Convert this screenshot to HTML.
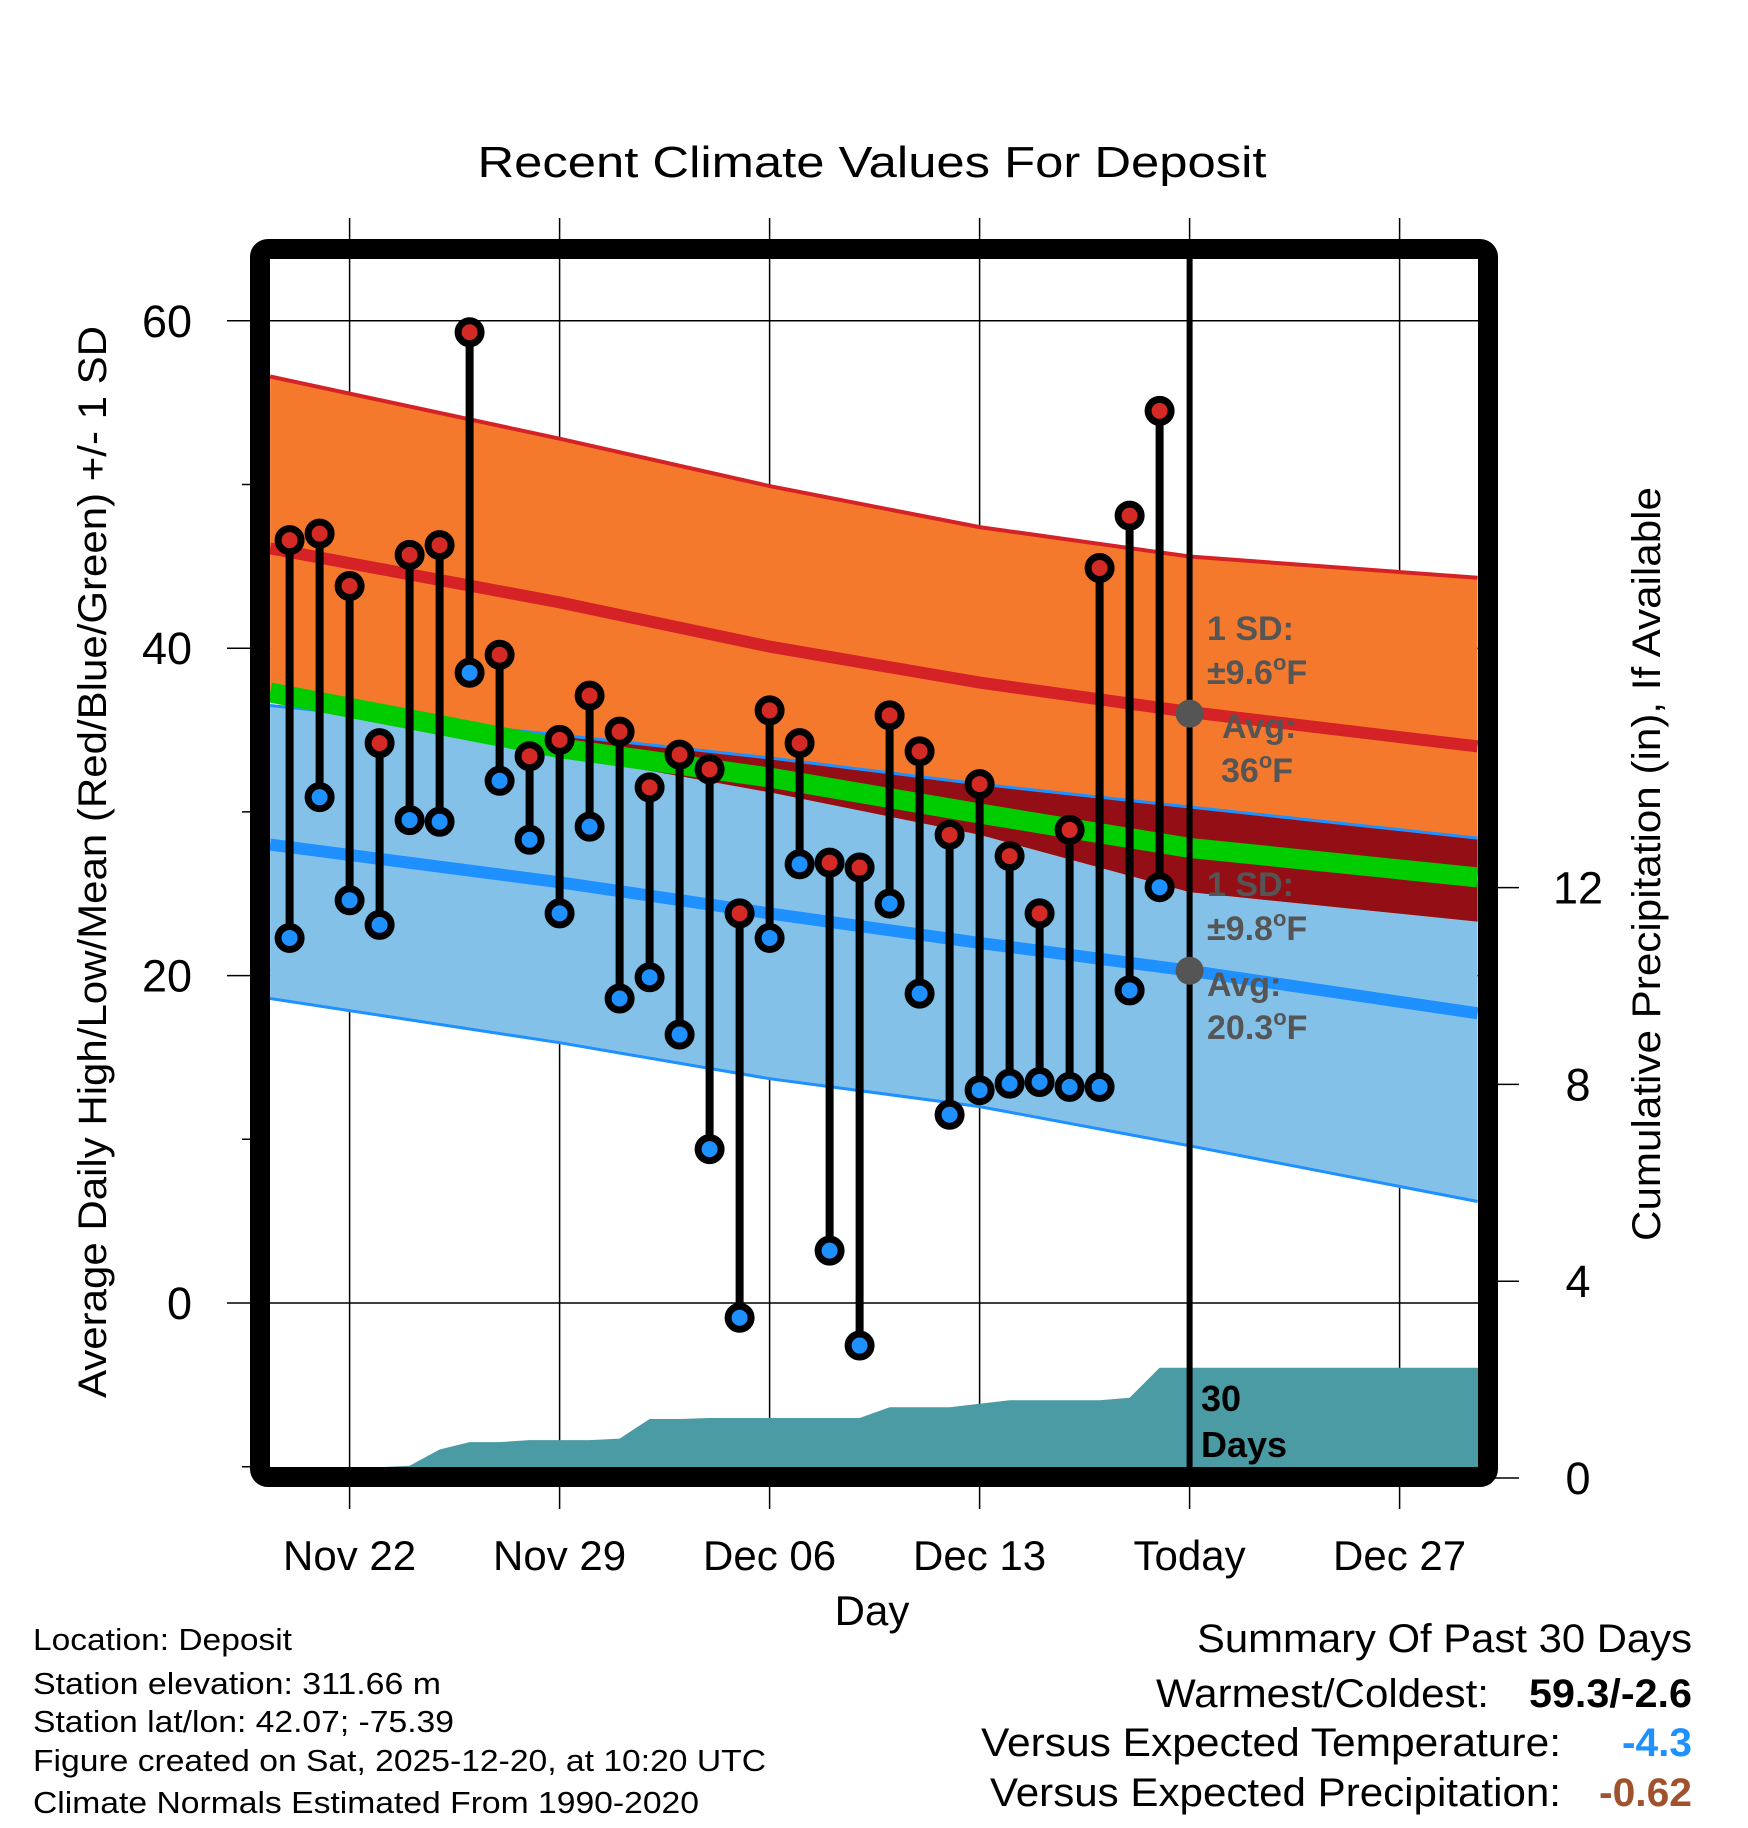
<!DOCTYPE html>
<html><head><meta charset="utf-8"><style>
html,body{margin:0;padding:0;background:#fff;}
svg{display:block;font-family:"Liberation Sans",sans-serif;}
</style></head><body>
<svg id="chart" width="1748" height="1828" viewBox="0 0 1748 1828">
<defs><clipPath id="plotclip"><rect x="270" y="259" width="1208" height="1208"/></clipPath></defs>
<g id="grid"></g>
<g id="plot" clip-path="url(#plotclip)"></g>
<g id="marks"></g>
<g id="annot"></g>
<rect x="260" y="249" width="1228" height="1228" rx="8" fill="none" stroke="#000" stroke-width="20"/>
<g id="axes"></g>
<text x="872" y="177" text-anchor="middle" font-size="44" textLength="789" lengthAdjust="spacingAndGlyphs">Recent Climate Values For Deposit</text>
<text x="872" y="1625" text-anchor="middle" font-size="42">Day</text>
<text transform="translate(106,862) rotate(-90)" text-anchor="middle" font-size="40" textLength="1072" lengthAdjust="spacingAndGlyphs">Average Daily High/Low/Mean (Red/Blue/Green) +/- 1 SD</text>
<text transform="translate(1660,864) rotate(-90)" text-anchor="middle" font-size="40" textLength="754" lengthAdjust="spacingAndGlyphs">Cumulative Precipitation (in), If Available</text>
<g font-size="31">
<text x="33" y="1650" textLength="259" lengthAdjust="spacingAndGlyphs">Location: Deposit</text>
<text x="33" y="1694" textLength="408" lengthAdjust="spacingAndGlyphs">Station elevation: 311.66 m</text>
<text x="33" y="1732" textLength="421" lengthAdjust="spacingAndGlyphs">Station lat/lon: 42.07; -75.39</text>
<text x="33" y="1771" textLength="733" lengthAdjust="spacingAndGlyphs">Figure created on Sat, 2025-12-20, at 10:20 UTC</text>
<text x="33" y="1813" textLength="666" lengthAdjust="spacingAndGlyphs">Climate Normals Estimated From 1990-2020</text>
</g>
<g font-size="40" text-anchor="end">
<text x="1692" y="1652" textLength="495" lengthAdjust="spacingAndGlyphs">Summary Of Past 30 Days</text>
<text x="1489" y="1707" textLength="333" lengthAdjust="spacingAndGlyphs">Warmest/Coldest:</text>
<text x="1692" y="1707" font-weight="bold" textLength="163" lengthAdjust="spacingAndGlyphs">59.3/-2.6</text>
<text x="1561" y="1756" textLength="580" lengthAdjust="spacingAndGlyphs">Versus Expected Temperature:</text>
<text x="1692" y="1756" font-weight="bold" fill="#1e90ff" textLength="70" lengthAdjust="spacingAndGlyphs">-4.3</text>
<text x="1561" y="1806" textLength="571" lengthAdjust="spacingAndGlyphs">Versus Expected Precipitation:</text>
<text x="1692" y="1806" font-weight="bold" fill="#a0522d" textLength="93" lengthAdjust="spacingAndGlyphs">-0.62</text>
</g>
</svg>
<script>
// day offsets relative to Nov 22
const normDays = [-2.65, 7, 14, 21, 28, 37.6];
const highUpper = [56.6, 52.8, 49.9, 47.4, 45.6, 44.3];
const highAvg   = [46.1, 42.8, 40.1, 37.9, 36.1, 34.0];
const highLower = [37.0, 33.5, 31.2, 28.6, 25.1, 23.3];
const meanTemp  = [37.3, 33.9, 32.1, 29.9, 27.8, 26.0];
const lowUpper  = [36.5, 34.7, 33.3, 31.7, 30.3, 28.4];
const lowAvg    = [28.0, 25.7, 23.8, 22.0, 20.3, 17.7];
const lowLower  = [18.6, 15.9, 13.7, 12.0, 9.6, 6.2];
const obsDays = [-2,-1,0,1,2,3,4,5,6,7,8,9,10,11,12,13,14,15,16,17,18,19,20,21,22,23,24,25,26,27];
const highs = [46.6,47.0,43.8,34.2,45.7,46.3,59.3,39.6,33.4,34.4,37.1,34.9,31.5,33.5,32.6,23.8,36.2,34.2,26.9,26.6,35.9,33.7,28.6,31.7,27.3,23.8,28.9,44.9,48.1,54.5];
const lows  = [22.3,30.9,24.6,23.1,29.5,29.4,38.5,31.9,28.3,23.8,29.1,18.6,19.9,16.4,9.4,-0.9,22.3,26.8,3.2,-2.6,24.4,18.9,11.5,13.0,13.4,13.5,13.2,13.2,19.1,25.4];
const precip = [0.2,0.2,0.2,0.22,0.25,0.58,0.73,0.73,0.77,0.77,0.77,0.80,1.20,1.20,1.22,1.22,1.22,1.22,1.22,1.22,1.44,1.44,1.44,1.51,1.58,1.58,1.58,1.58,1.63,2.24];
const xTickDays = [0,7,14,21,28,35];
const xTickLabels = ["Nov 22","Nov 29","Dec 06","Dec 13","Today","Dec 27"];
const yTicks = [0,20,40,60];
const yMinorTicks = [-10,10,30,50];
const y2Ticks = [0,4,8,12];
const todayDay = 28;
const todayHighAvg = 36;
const todayLowAvg = 20.3;

const NS="http://www.w3.org/2000/svg";
const X = d => 349.6 + 30*d;
const Y = v => 1303 - 16.37*v;
const YP = p => 1478 - 49.2*p;
function mk(tag, attrs, parent){const e=document.createElementNS(NS,tag);for(const k in attrs)e.setAttribute(k,attrs[k]);parent.appendChild(e);return e;}
const grid=document.getElementById('grid'), plot=document.getElementById('plot'), marks=document.getElementById('marks'), annot=document.getElementById('annot'), axes=document.getElementById('axes');

xTickDays.forEach((d,i)=>{
  const l=mk('line',{x1:X(d),x2:X(d),y1:218,y2:1509,stroke:'#000','stroke-width':1.5},grid);
  
  
  const t=mk('text',{x:X(d),y:1570,'text-anchor':'middle','font-size':42},axes);
  t.textContent=xTickLabels[i];
  
  
});
yTicks.forEach(v=>{
  const l=mk('line',{x1:227,x2:1478,y1:Y(v),y2:Y(v),stroke:'#000','stroke-width':1.5},grid);
  
  
  const t=mk('text',{x:192,y:Y(v)+16,'text-anchor':'end','font-size':45},axes);
  t.textContent=v;
  
  
});
yMinorTicks.forEach(v=>{
  const l=mk('line',{x1:242,x2:260,y1:Y(v),y2:Y(v),stroke:'#000','stroke-width':1.5},axes);
  
  
});
y2Ticks.forEach(p=>{
  const l=mk('line',{x1:1488,x2:1519,y1:YP(p),y2:YP(p),stroke:'#000','stroke-width':1.5},axes);
  
  
  const t=mk('text',{x:1578,y:YP(p)+16,'text-anchor':'middle','font-size':45},axes);
  t.textContent=p;
  
  
});

function pts(days,vals){return days.map((d,i)=>X(d).toFixed(1)+','+Y(vals[i]).toFixed(1));}
function band(up,lo,fill,name){
  const p=pts(normDays,up).concat(pts(normDays,lo).reverse());
  const e=mk('polygon',{points:p.join(' '),fill:fill},plot);
  
  
}
function line(vals,color,w,name){
  const e=mk('polyline',{points:pts(normDays,vals).join(' '),fill:'none',stroke:color,'stroke-width':w},plot);
  
  
}
band(lowUpper,lowLower,'#84c1e8','low-sd-band');
band(highUpper,highLower,'#f5792c','high-sd-band');
band(lowUpper.map((v,i)=>Math.max(v,highLower[i])),highLower,'#930f15','overlap-band');
line(lowLower,'#1e90ff',3,'low-minus-sd-line');
line(lowUpper,'#1e90ff',3,'low-plus-sd-line');
line(highUpper,'#d42226',4,'high-plus-sd-line');
line(meanTemp,'#00cc00',20,'mean-line');
line(highAvg,'#d42226',12,'high-avg-line');
line(lowAvg,'#1e90ff',12,'low-avg-line');

{
  const p=obsDays.map((d,i)=>X(d).toFixed(1)+','+YP(precip[i]).toFixed(1));
  p.push(X(40)+','+YP(precip[precip.length-1]).toFixed(1));
  p.push(X(40)+',1480'); p.push(X(obsDays[0])+',1480');
  const e=mk('polygon',{points:p.join(' '),fill:'#4a9ba3'},plot);
  
  
}
{
  const e=mk('line',{x1:X(todayDay),x2:X(todayDay),y1:259,y2:1467,stroke:'#000','stroke-width':6},plot);
  
  
}
obsDays.forEach((d,i)=>{
  const s=mk('line',{x1:X(d),x2:X(d),y1:Y(highs[i]),y2:Y(lows[i]),stroke:'#000','stroke-width':8},marks);
  
  
});
obsDays.forEach((d,i)=>{
  const h=mk('circle',{cx:X(d),cy:Y(highs[i]),r:11.5,fill:'#d42a25',stroke:'#000','stroke-width':7},marks);
  
  
  const l=mk('circle',{cx:X(d),cy:Y(lows[i]),r:11.5,fill:'#1e90ff',stroke:'#000','stroke-width':7},marks);
  
  
});
[[todayHighAvg,'high-avg-dot'],[todayLowAvg,'low-avg-dot']].forEach(a=>{
  const c=mk('circle',{cx:X(todayDay),cy:Y(a[0]),r:14,fill:'#555'},annot);
  
  
});
const labels=[
 [1207,640,'1 SD:'],[1207,684,'±9.6<tspan dy="-14" font-size="22">o</tspan><tspan dy="14">F</tspan>'],
 [1222,738,'Avg:'],[1221,782,'36<tspan dy="-14" font-size="22">o</tspan><tspan dy="14">F</tspan>'],
 [1207,896,'1 SD:'],[1207,940,'±9.8<tspan dy="-14" font-size="22">o</tspan><tspan dy="14">F</tspan>'],
 [1207,996,'Avg:'],[1207,1039,'20.3<tspan dy="-14" font-size="22">o</tspan><tspan dy="14">F</tspan>']
];
labels.forEach(l=>{
  const t=mk('text',{x:l[0],y:l[1],'font-size':34,'font-weight':'bold',fill:'#555'},annot);
  t.innerHTML=l[2];
  
  
});
[[1411,'30'],[1457,'Days']].forEach(l=>{
  const t=mk('text',{x:1201,y:l[0],'font-size':36,'font-weight':'bold',fill:'#000'},annot);
  t.textContent=l[1];
  
  
});
</script>
</body></html>
